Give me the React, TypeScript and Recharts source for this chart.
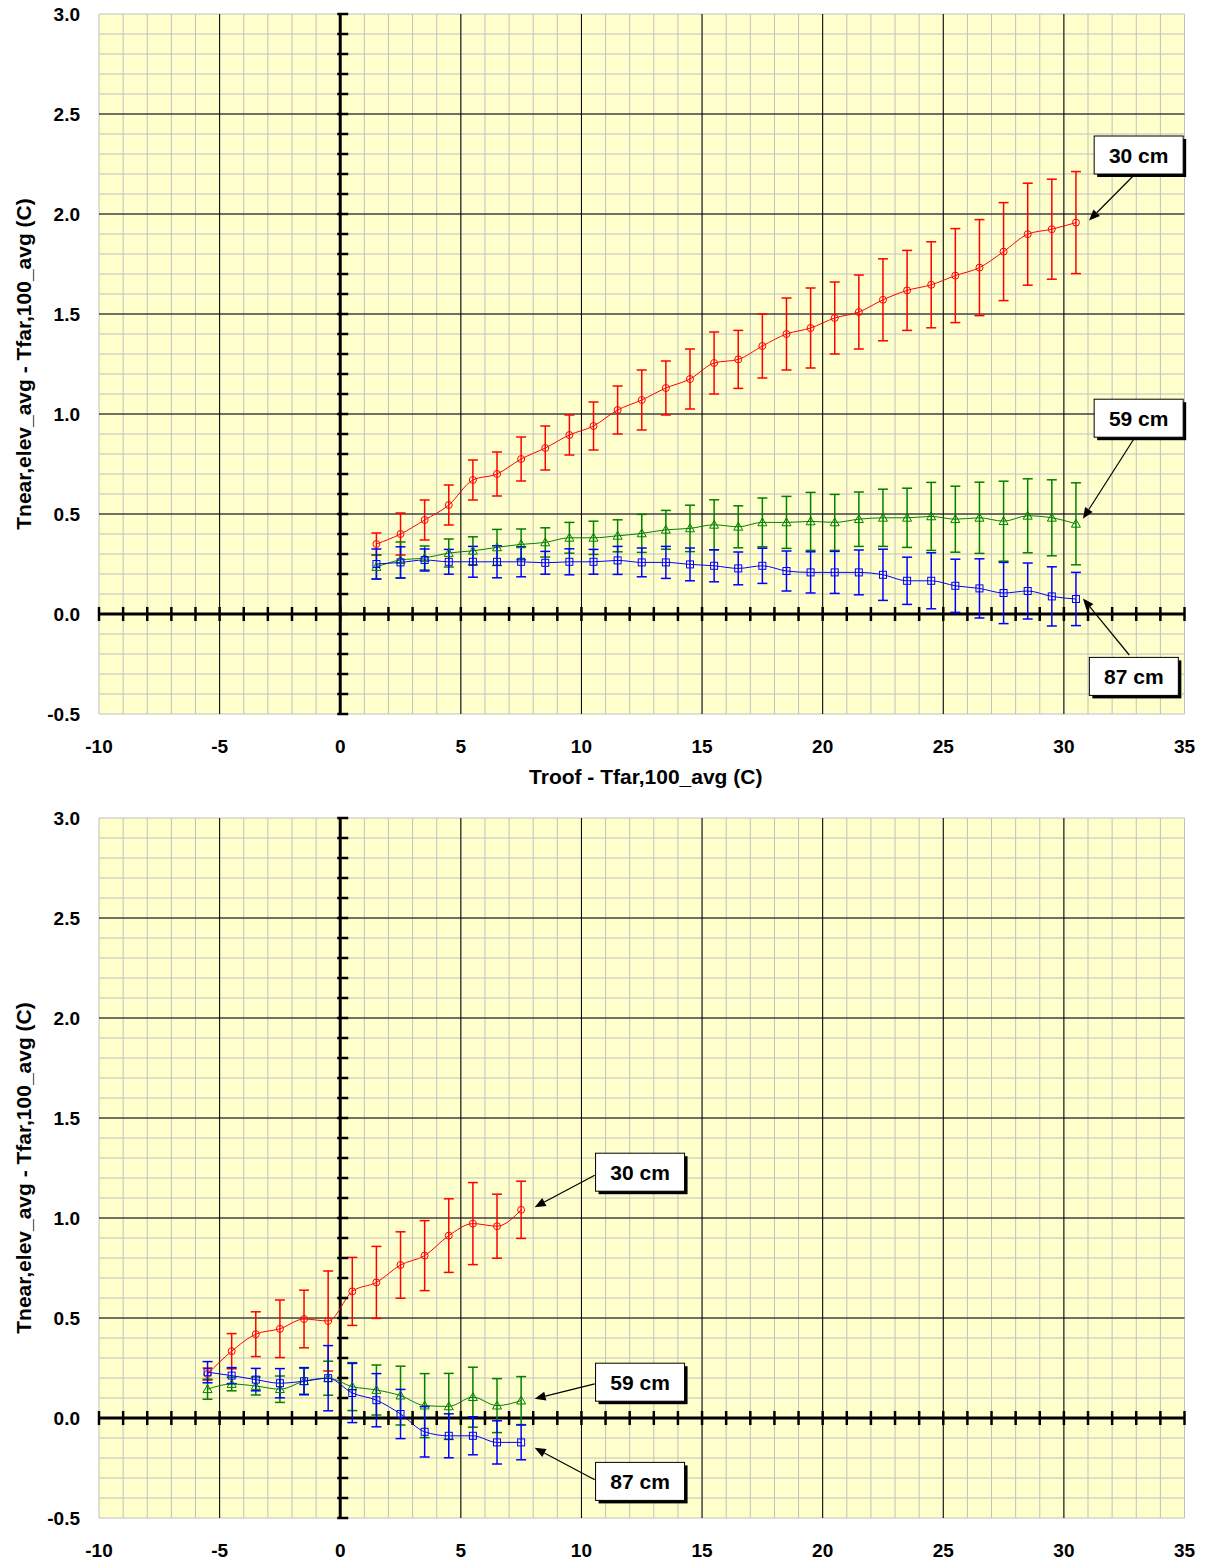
import React from 'react';
import {
  ComposedChart,
  Line,
  XAxis,
  YAxis,
  CartesianGrid,
  ErrorBar,
  ReferenceLine,
  ReferenceDot,
} from 'recharts';

// ---------- data ----------
const X_TOP = [1.5, 2.5, 3.5, 4.5, 5.5, 6.5, 7.5, 8.5, 9.5, 10.5, 11.5, 12.5, 13.5, 14.5, 15.5,
  16.5, 17.5, 18.5, 19.5, 20.5, 21.5, 22.5, 23.5, 24.5, 25.5, 26.5, 27.5, 28.5, 29.5, 30.5];
const TOP_30CM = [0.35, 0.40, 0.47, 0.545, 0.67, 0.70, 0.775, 0.83, 0.895, 0.94, 1.02, 1.07, 1.13, 1.175, 1.255,
  1.273, 1.34, 1.40, 1.43, 1.48, 1.51, 1.571, 1.618, 1.646, 1.692, 1.732, 1.812, 1.899, 1.924, 1.957];
const TOP_30CM_ERR = [0.055, 0.105, 0.10, 0.10, 0.10, 0.11, 0.11, 0.11, 0.10, 0.12, 0.12, 0.15, 0.135, 0.15, 0.155,
  0.145, 0.16, 0.18, 0.20, 0.18, 0.185, 0.205, 0.20, 0.215, 0.235, 0.24, 0.245, 0.255, 0.25, 0.255];
const TOP_59CM = [0.235, 0.27, 0.28, 0.305, 0.316, 0.333, 0.348, 0.358, 0.381, 0.381, 0.391, 0.403, 0.421, 0.428, 0.446,
  0.436, 0.458, 0.458, 0.463, 0.458, 0.474, 0.481, 0.481, 0.488, 0.474, 0.481, 0.464, 0.491, 0.481, 0.451];
const TOP_59CM_ERR = [0.06, 0.09, 0.06, 0.07, 0.07, 0.09, 0.077, 0.073, 0.077, 0.083, 0.08, 0.095, 0.097, 0.116, 0.125,
  0.105, 0.122, 0.13, 0.145, 0.14, 0.136, 0.143, 0.148, 0.17, 0.165, 0.178, 0.20, 0.185, 0.19, 0.205];
const TOP_87CM = [0.25, 0.258, 0.27, 0.261, 0.261, 0.261, 0.261, 0.256, 0.261, 0.261, 0.268, 0.258, 0.258, 0.248, 0.241,
  0.228, 0.241, 0.215, 0.208, 0.208, 0.208, 0.196, 0.166, 0.166, 0.141, 0.128, 0.105, 0.115, 0.088, 0.075];
const TOP_87CM_ERR = [0.075, 0.078, 0.055, 0.062, 0.077, 0.08, 0.075, 0.057, 0.065, 0.062, 0.07, 0.072, 0.08, 0.082, 0.08,
  0.082, 0.088, 0.10, 0.103, 0.105, 0.112, 0.128, 0.118, 0.14, 0.133, 0.148, 0.153, 0.14, 0.148, 0.133];

const X_BOTTOM = [-5.5, -4.5, -3.5, -2.5, -1.5, -0.5, 0.5, 1.5, 2.5, 3.5, 4.5, 5.5, 6.5, 7.5];
const BOT_30CM = [0.22, 0.334, 0.419, 0.446, 0.495, 0.485, 0.633, 0.678, 0.765, 0.812, 0.912, 0.972, 0.959, 1.041];
const BOT_30CM_ERR = [0.03, 0.088, 0.112, 0.144, 0.144, 0.25, 0.17, 0.18, 0.166, 0.175, 0.184, 0.205, 0.16, 0.143];
const BOT_59CM = [0.144, 0.17, 0.16, 0.144, 0.184, 0.199, 0.157, 0.14, 0.112, 0.062, 0.058, 0.104, 0.062, 0.087];
const BOT_59CM_ERR = [0.05, 0.034, 0.045, 0.066, 0.065, 0.085, 0.12, 0.125, 0.147, 0.16, 0.165, 0.15, 0.135, 0.12];
const BOT_87CM = [0.229, 0.212, 0.192, 0.174, 0.184, 0.199, 0.125, 0.089, 0.02, -0.069, -0.089, -0.089, -0.122, -0.122];
const BOT_87CM_ERR = [0.053, 0.04, 0.056, 0.073, 0.068, 0.163, 0.148, 0.133, 0.123, 0.126, 0.11, 0.095, 0.108, 0.087];

// ---------- axis ticks ----------
const X_LABEL_TICKS = [-10, -5, 0, 5, 10, 15, 20, 25, 30, 35];
const Y_LABEL_TICKS = [-0.5, 0, 0.5, 1.0, 1.5, 2.0, 2.5, 3.0];
const X_MAJOR_GRID = [-5, 5, 10, 15, 20, 25, 30];
const Y_MAJOR_GRID = [0.5, 1.0, 1.5, 2.0, 2.5];
const X_MINOR = Array.from({ length: 46 }, (_, i) => i - 10);
const Y_MINOR = Array.from({ length: 36 }, (_, i) => Math.round(i - 5) / 10);

const Y_TITLE = 'Tnear,elev_avg - Tfar,100_avg (C)';
const X_TITLE = 'Troof - Tfar,100_avg (C)';

// ---------- callouts (data coordinates) ----------
const TOP_CALLOUTS = [
  { label: '30 cm', x: 33.1, y: 2.295, fromX: 32.87, fromY: 2.19, toX: 31.04, toY: 1.967 },
  { label: '59 cm', x: 33.1, y: 0.979, fromX: 32.9, fromY: 0.875, toX: 30.79, toY: 0.476 },
  { label: '87 cm', x: 32.9, y: -0.312, fromX: 32.71, fromY: -0.205, toX: 30.79, toY: 0.078 },
];
const BOTTOM_CALLOUTS = [
  { label: '30 cm', x: 12.43, y: 1.229, fromX: 10.55, fromY: 1.214, toX: 8.06, toY: 1.054 },
  { label: '59 cm', x: 12.43, y: 0.179, fromX: 10.55, fromY: 0.171, toX: 8.06, toY: 0.096 },
  { label: '87 cm', x: 12.43, y: -0.317, fromX: 10.55, fromY: -0.309, toX: 8.06, toY: -0.149 },
];

const RED = '#FF0000';
const GREEN = '#008000';
const BLUE = '#0000FF';
const FONT = '"Liberation Sans", Arial, Helvetica, sans-serif';

const buildRows = (xs: number[], a: number[], ae: number[], b: number[], be: number[], c: number[], ce: number[]) =>
  xs.map((x, i) => ({ x, r: a[i], rErr: ae[i], g: b[i], gErr: be[i], b: c[i], bErr: ce[i] }));

const TOP_ROWS = buildRows(X_TOP, TOP_30CM, TOP_30CM_ERR, TOP_59CM, TOP_59CM_ERR, TOP_87CM, TOP_87CM_ERR);
const BOTTOM_ROWS = buildRows(X_BOTTOM, BOT_30CM, BOT_30CM_ERR, BOT_59CM, BOT_59CM_ERR, BOT_87CM, BOT_87CM_ERR);

// ---------- shapes ----------
const CircleDot = (props: any) => {
  const { cx, cy, index } = props;
  if (cx == null || cy == null) return <g key={`c${index}`} />;
  return <circle key={`c${index}`} cx={cx} cy={cy} r={3.5} fill="none" stroke={RED} strokeWidth={1} />;
};
const TriangleDot = (props: any) => {
  const { cx, cy, index } = props;
  if (cx == null || cy == null) return <g key={`t${index}`} />;
  const s = 4.5;
  return (
    <polygon
      key={`t${index}`}
      points={`${cx},${cy - s} ${cx - s},${cy + s * 0.75} ${cx + s},${cy + s * 0.75}`}
      fill="none"
      stroke={GREEN}
      strokeWidth={1}
    />
  );
};
const SquareDot = (props: any) => {
  const { cx, cy, index } = props;
  if (cx == null || cy == null) return <g key={`s${index}`} />;
  return <rect key={`s${index}`} x={cx - 3.5} y={cy - 3.5} width={7} height={7} fill="none" stroke={BLUE} strokeWidth={1} />;
};

const XTickMark = (props: any) => {
  const { cx, cy } = props;
  return <line x1={cx} y1={cy - 7} x2={cx} y2={cy + 7} stroke="#000" strokeWidth={2.5} />;
};
const YTickMark = (props: any) => {
  const { cx, cy } = props;
  return <line x1={cx - 3} y1={cy} x2={cx + 8} y2={cy} stroke="#000" strokeWidth={2.5} />;
};

const ArrowShape = (props: any) => {
  const { x1, y1, x2, y2 } = props;
  if ([x1, y1, x2, y2].some((v) => v == null || isNaN(v))) return <g />;
  const ang = Math.atan2(y2 - y1, x2 - x1);
  const len = 11;
  const half = 4.5;
  const bx = x2 - len * Math.cos(ang);
  const by = y2 - len * Math.sin(ang);
  const px = -Math.sin(ang) * half;
  const py = Math.cos(ang) * half;
  return (
    <g>
      <line x1={x1} y1={y1} x2={bx} y2={by} stroke="#000" strokeWidth={1.2} />
      <polygon points={`${x2},${y2} ${bx + px},${by + py} ${bx - px},${by - py}`} fill="#000" />
    </g>
  );
};

const makeBox = (label: string) => (props: any) => {
  const { cx, cy } = props;
  if (cx == null || cy == null) return <g />;
  const w = 89;
  const h = 38;
  return (
    <g>
      <rect x={cx - w / 2 + 3} y={cy - h / 2 + 3} width={w} height={h} fill="#000" />
      <rect x={cx - w / 2} y={cy - h / 2} width={w} height={h} fill="#FFFFFF" stroke="#000" strokeWidth={1} />
      <text x={cx} y={cy + 7.5} textAnchor="middle" fontFamily={FONT} fontWeight="bold" fontSize={21} fill="#000">
        {label}
      </text>
    </g>
  );
};

const XTickLabel = (props: any) => {
  const { x, y, payload } = props;
  return (
    <text x={x} y={y + 39} textAnchor="middle" fontFamily={FONT} fontWeight="bold" fontSize={19} fill="#000">
      {payload.value}
    </text>
  );
};
const YTickLabel = (props: any) => {
  const { x, y, payload } = props;
  return (
    <text x={x - 19} y={y + 7} textAnchor="end" fontFamily={FONT} fontWeight="bold" fontSize={19} fill="#000">
      {Number(payload.value).toFixed(1)}
    </text>
  );
};

const YTitle = (props: any) => {
  const vb = props.viewBox || { x: 8, y: 0, width: 91, height: 700 };
  const x = vb.x + 23;
  const y = vb.y + vb.height / 2;
  return (
    <text
      x={x}
      y={y}
      transform={`rotate(-90, ${x}, ${y})`}
      textAnchor="middle"
      fontFamily={FONT}
      fontWeight="bold"
      fontSize={21}
      fill="#000"
    >
      {Y_TITLE}
    </text>
  );
};
const XTitle = (props: any) => {
  const vb = props.viewBox || { x: 0, y: 0, width: 0, height: 0 };
  const x = vb.x + vb.width / 2 + 4;
  const y = vb.y + 70;
  return (
    <text x={x} y={y} textAnchor="middle" fontFamily={FONT} fontWeight="bold" fontSize={21} fill="#000">
      {X_TITLE}
    </text>
  );
};

type Callout = { label: string; x: number; y: number; fromX: number; fromY: number; toX: number; toY: number };

const Panel = ({
  rows,
  callouts,
  height,
  top,
  xAxisHeight,
  showXTitle,
}: {
  rows: any[];
  callouts: Callout[];
  height: number;
  top: number;
  xAxisHeight: number;
  showXTitle: boolean;
}) => (
  <ComposedChart width={1208} height={height} data={rows} margin={{ top, right: 23.5, left: 8, bottom: 0 }}>
    <CartesianGrid fill="#FFFFCC" fillOpacity={1} stroke="#C0C0C0" strokeWidth={1} horizontalValues={Y_MINOR} verticalValues={X_MINOR} />
    <CartesianGrid fill="none" stroke="#000000" strokeWidth={1} horizontalValues={Y_MAJOR_GRID} verticalValues={X_MAJOR_GRID} />
    <XAxis
      type="number"
      dataKey="x"
      domain={[-10, 35]}
      ticks={X_LABEL_TICKS}
      allowDataOverflow
      axisLine={false}
      tickLine={false}
      tickSize={0}
      tickMargin={0}
      height={xAxisHeight}
      tick={XTickLabel}
      interval={0}
      label={showXTitle ? { content: XTitle } : undefined}
    />
    <YAxis
      type="number"
      domain={[-0.5, 3]}
      ticks={Y_LABEL_TICKS}
      allowDataOverflow
      axisLine={false}
      tickLine={false}
      tickSize={0}
      tickMargin={0}
      width={91}
      tick={YTickLabel}
      interval={0}
      label={{ content: YTitle }}
    />
    <ReferenceLine x={0} stroke="#000" strokeWidth={3} />
    <ReferenceLine y={0} stroke="#000" strokeWidth={3} />
    {X_MINOR.map((v) => (
      <ReferenceDot key={`xt${v}`} x={v} y={0} r={1} shape={XTickMark} ifOverflow="visible" />
    ))}
    {Y_MINOR.map((v) => (
      <ReferenceDot key={`yt${v}`} x={0} y={v} r={1} shape={YTickMark} ifOverflow="visible" />
    ))}
    <Line
      type="monotone"
      dataKey="r"
      stroke={RED}
      strokeWidth={1}
      dot={CircleDot}
      activeDot={false}
      isAnimationActive={false}
    >
      <ErrorBar dataKey="rErr" direction="y" width={5} stroke={RED} strokeWidth={1.5} isAnimationActive={false} />
    </Line>
    <Line
      type="monotone"
      dataKey="g"
      stroke={GREEN}
      strokeWidth={1}
      dot={TriangleDot}
      activeDot={false}
      isAnimationActive={false}
    >
      <ErrorBar dataKey="gErr" direction="y" width={5} stroke={GREEN} strokeWidth={1.5} isAnimationActive={false} />
    </Line>
    <Line
      type="monotone"
      dataKey="b"
      stroke={BLUE}
      strokeWidth={1}
      dot={SquareDot}
      activeDot={false}
      isAnimationActive={false}
    >
      <ErrorBar dataKey="bErr" direction="y" width={5} stroke={BLUE} strokeWidth={1.5} isAnimationActive={false} />
    </Line>
    {callouts.map((c) => (
      <ReferenceLine
        key={`arrow-${c.label}`}
        segment={[
          { x: c.fromX, y: c.fromY },
          { x: c.toX, y: c.toY },
        ]}
        shape={ArrowShape}
        ifOverflow="visible"
      />
    ))}
    {callouts.map((c) => (
      <ReferenceDot key={`box-${c.label}`} x={c.x} y={c.y} r={1} shape={makeBox(c.label)} ifOverflow="visible" />
    ))}
  </ComposedChart>
);

export default function App() {
  return (
    <div style={{ width: 1208, margin: '-8px 0 0 -8px', background: '#FFFFFF' }}>
      <Panel rows={TOP_ROWS} callouts={TOP_CALLOUTS} height={808} top={14} xAxisHeight={94} showXTitle />
      <Panel rows={BOTTOM_ROWS} callouts={BOTTOM_CALLOUTS} height={756} top={10} xAxisHeight={46} showXTitle={false} />
    </div>
  );
}
